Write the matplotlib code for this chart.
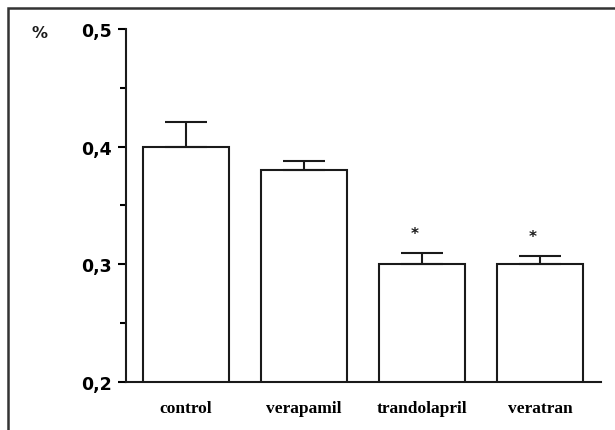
import matplotlib.pyplot as plt
from matplotlib.patches import Rectangle
from matplotlib.ticker import MultipleLocator, FixedFormatter, FixedLocator

groups = ["control", "verapamil", "trandolapril", "veratran"]
means = [0.400, 0.380, 0.300, 0.300]
sem = [0.021, 0.008, 0.010, 0.007]
signif = [False, False, True, True]
yticks = [0.2, 0.3, 0.4, 0.5]
ytick_labels = ["0,2", "0,3", "0,4", "0,5"]


def main():
    fig = plt.figure(figsize=(6.15, 4.31), dpi=100)
    ax = fig.add_axes([126 / 615, 1 - 383 / 431, 475 / 615, 353 / 431])

    x = list(range(len(groups)))
    ax.bar(x, means, width=0.73, bottom=0, color="white",
           edgecolor="#1a1a1a", linewidth=1.5, zorder=2)
    # upper error only, like the print version
    ax.errorbar(x, means, yerr=[[0] * len(sem), sem], fmt="none",
                ecolor="#1a1a1a", elinewidth=1.5, capsize=15,
                capthick=1.5, zorder=3)
    for xi, m, e, s in zip(x, means, sem, signif):
        if s:
            ax.text(xi - 0.06, m + e + 0.010, "*", ha="center", va="bottom",
                    fontsize=11, fontweight="bold", color="#1a1a1a")

    ax.set_ylim(0.2, 0.5)
    ax.set_xlim(-0.508, 3.517)
    ax.yaxis.set_major_locator(FixedLocator(yticks))
    ax.yaxis.set_major_formatter(FixedFormatter(ytick_labels))
    ax.yaxis.set_minor_locator(MultipleLocator(0.05))
    ax.set_xticks(x)
    ax.set_xticklabels(groups, fontfamily="Liberation Serif",
                       fontweight="bold", fontsize=12.5)
    ax.tick_params(axis="x", length=0, pad=13)
    ax.tick_params(axis="y", which="major", length=6, width=1.5, pad=4,
                   labelsize=12.5)
    ax.tick_params(axis="y", which="minor", length=4, width=1.5)
    for lab in ax.get_yticklabels():
        lab.set_fontweight("bold")

    for side in ["top", "right"]:
        ax.spines[side].set_visible(False)
    for side in ["left", "bottom"]:
        ax.spines[side].set_linewidth(1.5)
        ax.spines[side].set_color("#1a1a1a")

    fig.text(31 / 615, 1 - 33 / 431, "%", fontsize=11.5, fontweight="bold",
             ha="left", va="center", color="#1a1a1a")

    # page frame, cut off at right and bottom
    fig.patches.append(Rectangle((8 / 615, -0.1), 1.2, 1.1 - 9 / 431,
                                 transform=fig.transFigure, fill=False,
                                 edgecolor="#333333", linewidth=1.8))

    plt.savefig("out.png", dpi=100)


if __name__ == "__main__":
    main()
